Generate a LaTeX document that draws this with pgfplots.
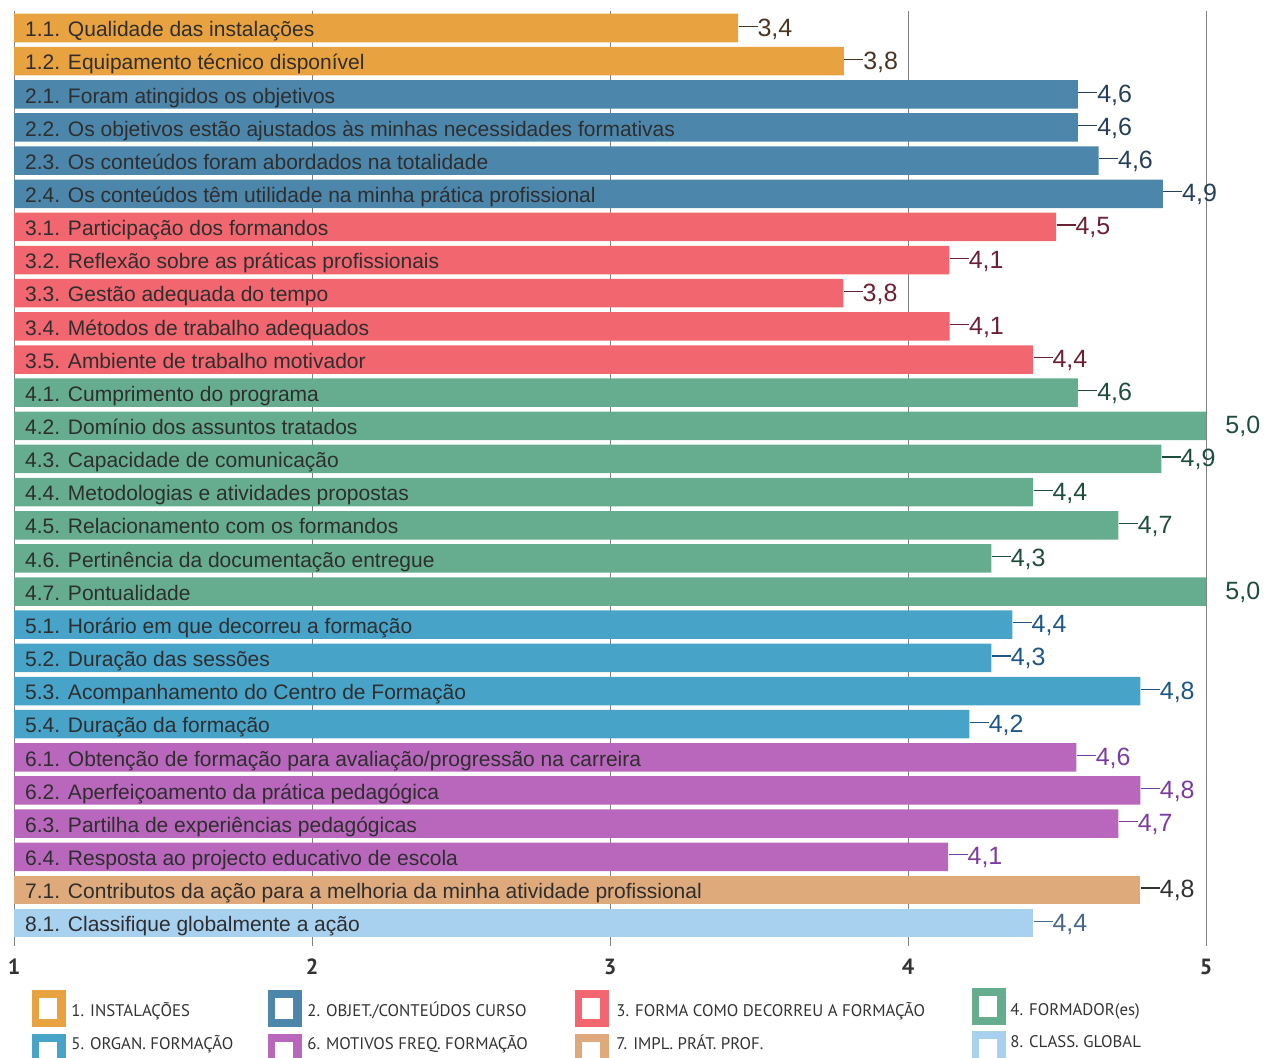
\documentclass[border=0pt]{standalone}
\usepackage{pgfplots}
\pgfplotsset{compat=1.18}
\usepackage{pgfplotstable}
\usepackage{fontspec}
\setmainfont{Liberation Sans}
\newfontfamily\legfont{PT Sans}

\definecolor{cA}{HTML}{E9A240}
\definecolor{cB}{HTML}{4C86AB}
\definecolor{cC}{HTML}{F2666F}
\definecolor{cD}{HTML}{66AD90}
\definecolor{cE}{HTML}{48A3C9}
\definecolor{cF}{HTML}{B867BC}
\definecolor{cG}{HTML}{DFAA7B}
\definecolor{cH}{HTML}{A8D1F0}
\definecolor{tA}{HTML}{4A3422}
\definecolor{tB}{HTML}{263F5C}
\definecolor{tC}{HTML}{6B2035}
\definecolor{tD}{HTML}{1E4D3E}
\definecolor{tE}{HTML}{1F5683}
\definecolor{tF}{HTML}{7B3CA0}
\definecolor{tG}{HTML}{333333}
\definecolor{tH}{HTML}{47678C}
\definecolor{labc}{HTML}{2E2E2E}
\definecolor{legc}{HTML}{333333}

\pgfplotstableread{
y v lab
0 3.43 3,4
1 3.785 3,8
}\tA
\pgfplotstableread{
y v lab
2 4.57 4,6
3 4.57 4,6
4 4.64 4,6
5 4.855 4,9
}\tB
\pgfplotstableread{
y v lab
6 4.497 4,5
7 4.139 4,1
8 3.783 3,8
9 4.14 4,1
10 4.42 4,4
}\tC
\pgfplotstableread{
y v lab
11 4.57 4,6
13 4.85 4,9
14 4.42 4,4
15 4.706 4,7
16 4.28 4,3
}\tD
\pgfplotstableread{
y v lab
12 5.0 5,0
17 5.0 5,0
}\tDfull
\pgfplotstableread{
y v lab
18 4.35 4,4
19 4.28 4,3
20 4.78 4,8
21 4.206 4,2
}\tE
\pgfplotstableread{
y v lab
22 4.565 4,6
23 4.78 4,8
24 4.706 4,7
25 4.135 4,1
}\tF
\pgfplotstableread{
y v lab
26 4.78 4,8
}\tG
\pgfplotstableread{
y v lab
27 4.42 4,4
}\tH

\newcommand{\legitem}[3]{%
  \fill[#3] (#1,#2) rectangle ++(34,37);
  \fill[white] (#1+7,#2+8) rectangle ++(18,21);
}

\begin{document}
\begin{tikzpicture}
\useasboundingbox (0,0) rectangle (636.5pt,-528.5pt);
\begin{axis}[
  at={(7pt,-469.8pt)}, anchor=south west,
  width=596pt, height=464.1pt, scale only axis,
  xmin=0, xmax=4, ymin=-0.5, ymax=27.5, y dir=reverse,
  xbar, bar width=0.86, bar shift=0pt,
  axis line style={draw=none},
  xtick={0,1,2,3,4}, xticklabels={1,2,3,4,5},
  ytick=\empty,
  xmajorgrids, grid style={draw=black!50, line width=0.5pt},
  xtick pos=left, tick align=outside, major tick length=3pt,
  x tick style={draw=black!50, line width=0.5pt},
  xticklabel style={font=\legfont\bfseries\fontsize{11}{13}\selectfont, text=legc, anchor=north, inner sep=0pt, yshift=-6.5pt},
  clip=false,
  point meta=explicit symbolic,
  nodes near coords={\rule[4.65pt]{9.5pt}{0.6pt}\pgfplotspointmeta},
  nodes near coords style={anchor=base west, inner sep=0pt, yshift=-4pt, font=\fontsize{12.5}{14}\selectfont},
  after end axis/.code={
    \foreach \lb [count=\i from 0] in {%
      {1.1. Qualidade das instalações},
      {1.2. Equipamento técnico disponível},
      {2.1. Foram atingidos os objetivos},
      {2.2. Os objetivos estão ajustados às minhas necessidades formativas},
      {2.3. Os conteúdos foram abordados na totalidade},
      {2.4. Os conteúdos têm utilidade na minha prática profissional},
      {3.1. Participação dos formandos},
      {3.2. Reflexão sobre as práticas profissionais},
      {3.3. Gestão adequada do tempo},
      {3.4. Métodos de trabalho adequados},
      {3.5. Ambiente de trabalho motivador},
      {4.1. Cumprimento do programa},
      {4.2. Domínio dos assuntos tratados},
      {4.3. Capacidade de comunicação},
      {4.4. Metodologias e atividades propostas},
      {4.5. Relacionamento com os formandos},
      {4.6. Pertinência da documentação entregue},
      {4.7. Pontualidade},
      {5.1. Horário em que decorreu a formação},
      {5.2. Duração das sessões},
      {5.3. Acompanhamento do Centro de Formação},
      {5.4. Duração da formação},
      {6.1. Obtenção de formação para avaliação/progressão na carreira},
      {6.2. Aperfeiçoamento da prática pedagógica},
      {6.3. Partilha de experiências pedagógicas},
      {6.4. Resposta ao projecto educativo de escola},
      {7.1. Contributos da ação para a melhoria da minha atividade profissional},
      {8.1. Classifique globalmente a ação}}%
    {\node[anchor=base west, inner sep=0pt, text=labc, font=\fontsize{10.5}{12}\selectfont, xshift=5.4pt, yshift=-4.35pt] at (axis cs:0,\i) {\lb};}
  },
]
\addplot[fill=cA, draw=none, nodes near coords style={text=tA}] table[x expr=\thisrow{v}-1, y=y, meta=lab] {\tA};
\addplot[fill=cB, draw=none, nodes near coords style={text=tB}] table[x expr=\thisrow{v}-1, y=y, meta=lab] {\tB};
\addplot[fill=cC, draw=none, nodes near coords style={text=tC}] table[x expr=\thisrow{v}-1, y=y, meta=lab] {\tC};
\addplot[fill=cD, draw=none, nodes near coords style={text=tD}] table[x expr=\thisrow{v}-1, y=y, meta=lab] {\tD};
\addplot[fill=cD, draw=none, nodes near coords={\hspace*{9.5pt}\pgfplotspointmeta}, nodes near coords style={text=tD}] table[x expr=\thisrow{v}-1, y=y, meta=lab] {\tDfull};
\addplot[fill=cE, draw=none, nodes near coords style={text=tE}] table[x expr=\thisrow{v}-1, y=y, meta=lab] {\tE};
\addplot[fill=cF, draw=none, nodes near coords style={text=tF}] table[x expr=\thisrow{v}-1, y=y, meta=lab] {\tF};
\addplot[fill=cG, draw=none, nodes near coords style={text=tG}] table[x expr=\thisrow{v}-1, y=y, meta=lab] {\tG};
\addplot[fill=cH, draw=none, nodes near coords style={text=tH}] table[x expr=\thisrow{v}-1, y=y, meta=lab] {\tH};
\end{axis}
\begin{scope}[x=0.5pt, y=-0.5pt]
  \legitem{32}{990}{cA}
  \legitem{268}{990}{cB}
  \legitem{575}{990}{cC}
  \legitem{972}{988}{cD}
  \legitem{32}{1034}{cE}
  \legitem{268}{1034}{cF}
  \legitem{575}{1034}{cG}
  \legitem{972}{1031}{cH}
  \begin{scope}[every node/.style={anchor=base west, inner sep=0pt, text=legc, font=\legfont\fontsize{8.4}{10}\selectfont}]
  \node at (71,1016) {1. INSTALAÇÕES};
  \node at (307,1016) {2. OBJET./CONTEÚDOS CURSO};
  \node at (616,1016) {3. FORMA COMO DECORREU A FORMAÇÃO};
  \node at (1010,1015) {4. FORMADOR(es)};
  \node at (71,1049) {5. ORGAN. FORMAÇÃO};
  \node at (307,1049) {6. MOTIVOS FREQ. FORMAÇÃO};
  \node at (616,1049) {7. IMPL. PRÁT. PROF.};
  \node at (1010,1047) {8. CLASS. GLOBAL};
  \end{scope}
\end{scope}
\end{tikzpicture}
\end{document}
